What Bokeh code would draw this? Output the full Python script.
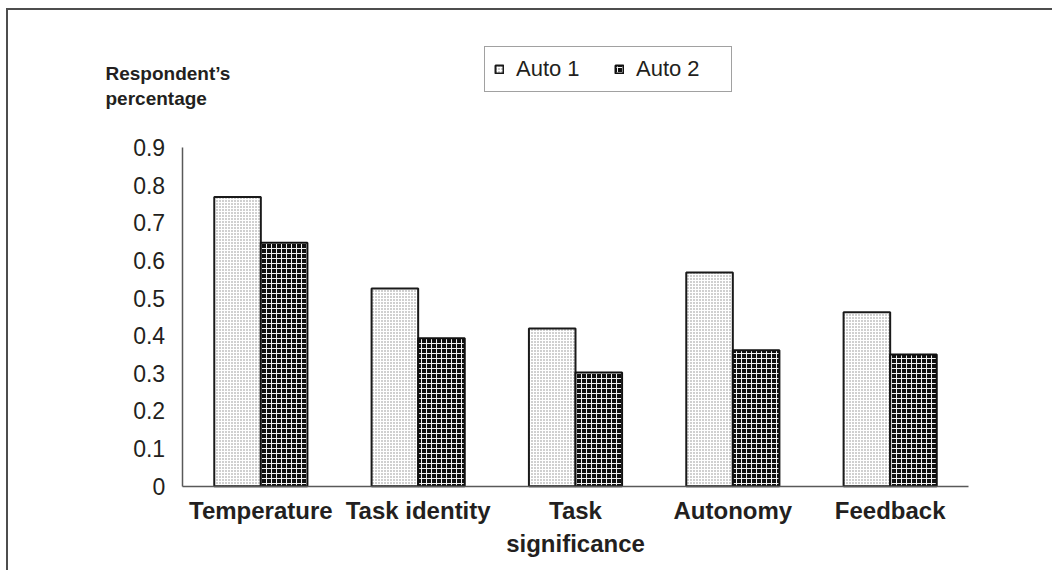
from bokeh.plotting import figure
from bokeh.models import (ColumnDataSource, FactorRange, Range1d, FixedTicker,
                          Legend, LegendItem, Label)
from bokeh.transform import dodge
from bokeh.embed import file_html
from bokeh.resources import INLINE

# ---- data ----
categories = ["Temperature", "Task identity", "Task significance", "Autonomy", "Feedback"]
category_labels = ["Temperature", "Task identity", "Task\nsignificance", "Autonomy", "Feedback"]
series_names = ["Auto 1", "Auto 2"]
auto1 = [0.768, 0.525, 0.419, 0.568, 0.462]
auto2 = [0.647, 0.393, 0.302, 0.361, 0.350]
y_ticks = [0, 0.1, 0.2, 0.3, 0.4, 0.5, 0.6, 0.7, 0.8, 0.9]
y_tick_labels = ["0", "0.1", "0.2", "0.3", "0.4", "0.5", "0.6", "0.7", "0.8", "0.9"]
y_title_lines = ["Respondent\u2019s", "percentage"]

TXT = "#231f20"
AX = "#595959"
FONT = "Liberation Sans"

src = ColumnDataSource(dict(cat=category_labels, auto1=auto1, auto2=auto2))

xr = FactorRange(*category_labels, range_padding=0.5, range_padding_units="absolute")
p = figure(width=1046, height=562, x_range=xr, y_range=Range1d(-0.2, 1.2),
           output_backend="svg", toolbar_location=None,
           min_border_left=95, min_border_right=7, min_border_top=24,
           min_border_bottom=11)
p.styles = {"margin-left": "6px", "margin-top": "8px",
            "border-top": "2px solid #4d4d4d", "border-left": "2px solid #4d4d4d"}
p.grid.visible = False
p.outline_line_color = None
p.background_fill_color = "white"
p.border_fill_color = "white"

# y axis
ya = p.yaxis[0]
ya.ticker = FixedTicker(ticks=y_ticks)
ya.major_label_overrides = dict(zip(y_ticks, y_tick_labels))
ya.bounds = (0, 0.9)
ya.fixed_location = 0
ya.major_tick_line_color = None
ya.minor_tick_line_color = None
ya.axis_line_color = AX
ya.axis_line_width = 1.5
ya.major_label_text_font = FONT
ya.major_label_text_font_size = "23px"
ya.major_label_text_color = TXT
ya.major_label_standoff = 11

# x axis
xa = p.xaxis[0]
xa.bounds = (0, len(categories))
xa.fixed_location = 0
xa.major_tick_line_color = None
xa.minor_tick_line_color = None
xa.axis_line_color = AX
xa.axis_line_width = 1.5
xa.major_label_text_font = FONT
xa.major_label_text_font_style = "bold"
xa.major_label_text_font_size = "24px"
xa.major_label_text_color = TXT
xa.major_label_standoff = 5

bw = 0.296
r1 = p.vbar(x=dodge("cat", -bw / 2, range=p.x_range), top="auto1", width=bw, source=src,
            fill_color="white", hatch_pattern="dot", hatch_color="#8a8a8a",
            hatch_scale=3, hatch_weight=1, line_color="#1a1a1a", line_width=2)
r2 = p.vbar(x=dodge("cat", bw / 2, range=p.x_range), top="auto2", width=bw, source=src,
            fill_color="#111111", hatch_pattern="cross", hatch_color="#f2f2f2",
            hatch_scale=5, hatch_weight=1, line_color="#111111", line_width=2)

legend = Legend(items=[LegendItem(label=series_names[0], renderers=[r1]),
                       LegendItem(label=series_names[1], renderers=[r2])],
                orientation="horizontal", location=(381, 469),
                glyph_width=10, glyph_height=10, label_standoff=12, spacing=12,
                label_width=86, padding=9, margin=0,
                border_line_color="#444444", border_line_width=1.5,
                label_text_font=FONT, label_text_font_size="22px", label_text_color=TXT,
                background_fill_color="white", background_fill_alpha=1)
p.add_layout(legend)

for txt, yy in zip(y_title_lines, [488, 463]):
    p.add_layout(Label(x=2, y=yy, x_units="screen", y_units="screen", text=txt,
                       text_font=FONT, text_font_style="bold", text_font_size="19px",
                       text_color=TXT, text_baseline="middle", text_align="left"))

open("out.html", "w").write(file_html(p, INLINE))
